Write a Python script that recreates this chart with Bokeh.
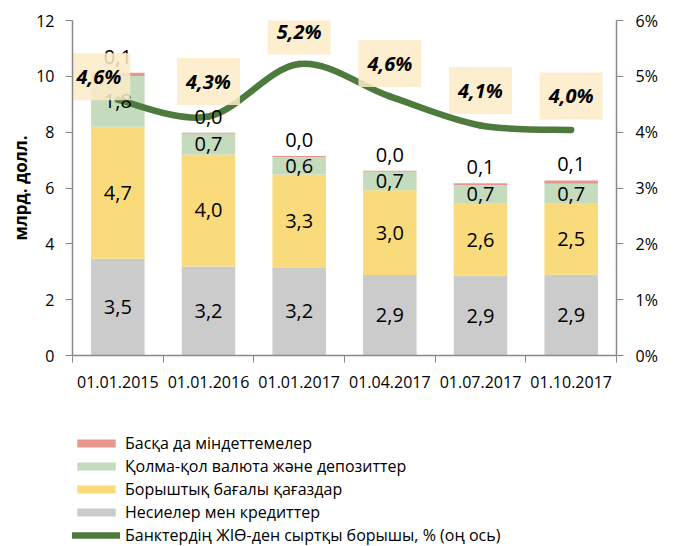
from bokeh.plotting import figure
from bokeh.layouts import column
from bokeh.models import (Range1d, LinearAxis, FixedTicker, ColumnDataSource,
                          Legend, LegendItem)
from bokeh.core.properties import value
from bokeh.embed import file_html
from bokeh.resources import INLINE

# ---------------- data ----------------
categories = ["01.01.2015", "01.01.2016", "01.01.2017",
              "01.04.2017", "01.07.2017", "01.10.2017"]
loans = [3.47, 3.19, 3.16, 2.88, 2.86, 2.89]          # Несиелер мен кредиттер
securities = [4.72, 4.01, 3.32, 3.04, 2.58, 2.55]     # Борыштық бағалы қағаздар
currency = [1.82, 0.74, 0.63, 0.66, 0.66, 0.71]       # Қолма-қол валюта және депозиттер
other = [0.12, 0.04, 0.04, 0.04, 0.07, 0.12]          # Басқа да міндеттемелер
debt_gdp = [4.58, 4.28, 5.22, 4.64, 4.12, 4.04]       # % ЖІӨ (right axis)

name_loans = "Несиелер мен кредиттер"
name_sec = "Борыштық бағалы қағаздар"
name_cur = "Қолма-қол валюта және депозиттер"
name_other = "Басқа да міндеттемелер"
name_line = "Банктердің ЖІӨ-ден сыртқы борышы, % (оң ось)"
y_label = "млрд. долл."
left_ticks = [0, 2, 4, 6, 8, 10, 12]
right_ticks = [0, 1, 2, 3, 4, 5, 6]

# ---------------- styles ----------------
FONT = "Open Sans"
C_GREY, C_YEL, C_GRN, C_RED = "#CBCBCB", "#F9DB7B", "#C4DBBD", "#E8978F"
C_LINE = "#4F7A3E"
C_BOX = "#FCEBC7"
C_AXIS = "#898989"

def fmt(v):
    return f"{v:.1f}".replace(".", ",")

n = len(categories)
xs = [i + 0.5 for i in range(n)]

p = figure(width=674, height=425, output_backend="svg", toolbar_location=None,
           x_range=Range1d(0, n), y_range=Range1d(0, 12),
           min_border_left=72, min_border_right=58, min_border_top=20,
           min_border_bottom=70)
p.extra_y_ranges = {"pct": Range1d(0, 6)}
p.outline_line_color = None
p.xgrid.visible = False
p.ygrid.visible = False

# bars
src = ColumnDataSource(dict(x=xs, loans=loans, sec=securities, cur=currency,
                            oth=other))
bar_colors = [C_GREY, C_YEL, C_GRN, C_RED]
bars = p.vbar_stack(["loans", "sec", "cur", "oth"], x="x", width=0.59,
                    color=bar_colors, line_color=None, source=src)

# smooth line (cubic Bezier through data points, Catmull-Rom control points)
bz = dict(x0=[], y0=[], x1=[], y1=[], cx0=[], cy0=[], cx1=[], cy1=[])
for i in range(n - 1):
    a, b = max(i - 1, 0), min(i + 2, n - 1)
    bz["x0"].append(xs[i]); bz["y0"].append(debt_gdp[i])
    bz["x1"].append(xs[i + 1]); bz["y1"].append(debt_gdp[i + 1])
    bz["cx0"].append(xs[i] + (xs[i + 1] - xs[a]) / 6)
    bz["cy0"].append(debt_gdp[i] + (debt_gdp[i + 1] - debt_gdp[a]) / 6)
    bz["cx1"].append(xs[i + 1] - (xs[b] - xs[i]) / 6)
    bz["cy1"].append(debt_gdp[i + 1] - (debt_gdp[b] - debt_gdp[i]) / 6)
p.bezier(x0="x0", y0="y0", x1="x1", y1="y1", cx0="cx0", cy0="cy0",
         cx1="cx1", cy1="cy1", source=ColumnDataSource(bz),
         line_color=C_LINE, line_width=6.5, line_cap="round",
         y_range_name="pct")

# segment labels (centered)
lx, ly, lt = [], [], []
for i in range(n):
    base = 0.0
    for arr in (loans, securities, currency):
        lx.append(xs[i]); ly.append(base + arr[i] / 2); lt.append(fmt(arr[i]))
        base += arr[i]
p.text(x="x", y="y", text="t", source=ColumnDataSource(dict(x=lx, y=ly, t=lt)),
       text_align="center", text_baseline="middle", text_color="#000000",
       text_font=value(FONT), text_font_size="20px")

# "other" labels above bar tops
tops = [loans[i] + securities[i] + currency[i] + other[i] for i in range(n)]
p.text(x="x", y="y", text="t",
       source=ColumnDataSource(dict(x=xs, y=tops, t=[fmt(v) for v in other])),
       y_offset=-16, text_align="center", text_baseline="middle",
       text_color="#000000", text_font=value(FONT), text_font_size="20px")

# percent labels in boxes
x_off = [-19, 0, 0, 0, 0, 0]
y_off = [-23, -35, -33, -33, -35, -34]
p.text(x="x", y="y", text="t", x_offset="xo", y_offset="yo",
       source=ColumnDataSource(dict(x=xs, y=debt_gdp,
                                    t=[fmt(v) + "%" for v in debt_gdp],
                                    xo=x_off, yo=y_off)),
       y_range_name="pct", text_align="center", text_baseline="middle",
       text_color="#000000", text_font=value(FONT), text_font_size="20px",
       text_font_style="bold italic",
       background_fill_color=C_BOX, background_fill_alpha=0.85,
       padding=dict(x=9, y=10))

# axes
xa = p.xaxis[0]
xa.ticker = FixedTicker(ticks=xs, minor_ticks=list(range(n + 1)))
xa.major_label_overrides = {x: c for x, c in zip(xs, categories)}
xa.major_tick_out = 0
xa.major_tick_in = 0
xa.minor_tick_out = 7
xa.minor_tick_in = 0
xa.minor_tick_line_color = C_AXIS
xa.axis_line_color = C_AXIS
xa.axis_line_width = 1.5
xa.major_label_standoff = 13
xa.major_label_text_font = FONT
xa.major_label_text_font_size = "16px"
xa.major_label_text_color = "#000000"

ya = p.yaxis[0]
ya.ticker = FixedTicker(ticks=left_ticks, minor_ticks=[])
ya.major_tick_out = 7
ya.major_tick_in = 0
ya.major_tick_line_color = C_AXIS
ya.axis_line_color = C_AXIS
ya.axis_line_width = 1.5
ya.major_label_standoff = 11
ya.major_label_text_font = FONT
ya.major_label_text_font_size = "16px"
ya.major_label_text_color = "#000000"
ya.axis_label = y_label
ya.axis_label_text_font = FONT
ya.axis_label_text_font_size = "17px"
ya.axis_label_text_font_style = "bold"
ya.axis_label_text_color = "#000000"
ya.axis_label_standoff = 1

ra = LinearAxis(y_range_name="pct",
                ticker=FixedTicker(ticks=right_ticks, minor_ticks=[]))
ra.major_label_overrides = {t: f"{t}%" for t in right_ticks}
ra.major_tick_out = 7
ra.major_tick_in = 0
ra.major_tick_line_color = C_AXIS
ra.axis_line_color = C_AXIS
ra.axis_line_width = 1.5
ra.major_label_standoff = 12
ra.major_label_text_font = FONT
ra.major_label_text_font_size = "16px"
ra.major_label_text_color = "#000000"
p.add_layout(ra, "right")

# ---------------- legend (strip under the chart) ----------------
lg = figure(width=674, height=121, output_backend="svg", toolbar_location=None,
            x_range=Range1d(0, 1), y_range=Range1d(0, 1),
            min_border=0, x_axis_type=None, y_axis_type=None)
lg.outline_line_color = None
lg.xgrid.visible = False
lg.ygrid.visible = False
# legend-key placeholders (NaN position -> nothing drawn in the strip itself)
key_src = ColumnDataSource(dict(x=[float("nan")], y=[float("nan")]))
keys = [lg.vbar(x="x", top="y", width=0.5, color=c, line_color=None,
                source=key_src) for c in bar_colors]
key_line = lg.line(x="x", y="y", line_color=C_LINE, line_width=6.5,
                   line_cap="round", source=key_src)

legend = Legend(items=[
    LegendItem(label=name_other, renderers=[keys[3]]),
    LegendItem(label=name_cur, renderers=[keys[2]]),
    LegendItem(label=name_sec, renderers=[keys[1]]),
    LegendItem(label=name_loans, renderers=[keys[0]]),
    LegendItem(label=name_line, renderers=[key_line]),
], location=(0, 0), orientation="vertical", glyph_width=48, glyph_height=10,
   label_standoff=5, spacing=1, padding=0, margin=0, border_line_color=None,
   background_fill_alpha=0, label_text_font=FONT, label_text_font_size="16px",
   label_height=20, label_text_color="#000000")
lg.add_layout(legend)

open("out.html", "w").write(file_html(column(p, lg, spacing=0), INLINE))
